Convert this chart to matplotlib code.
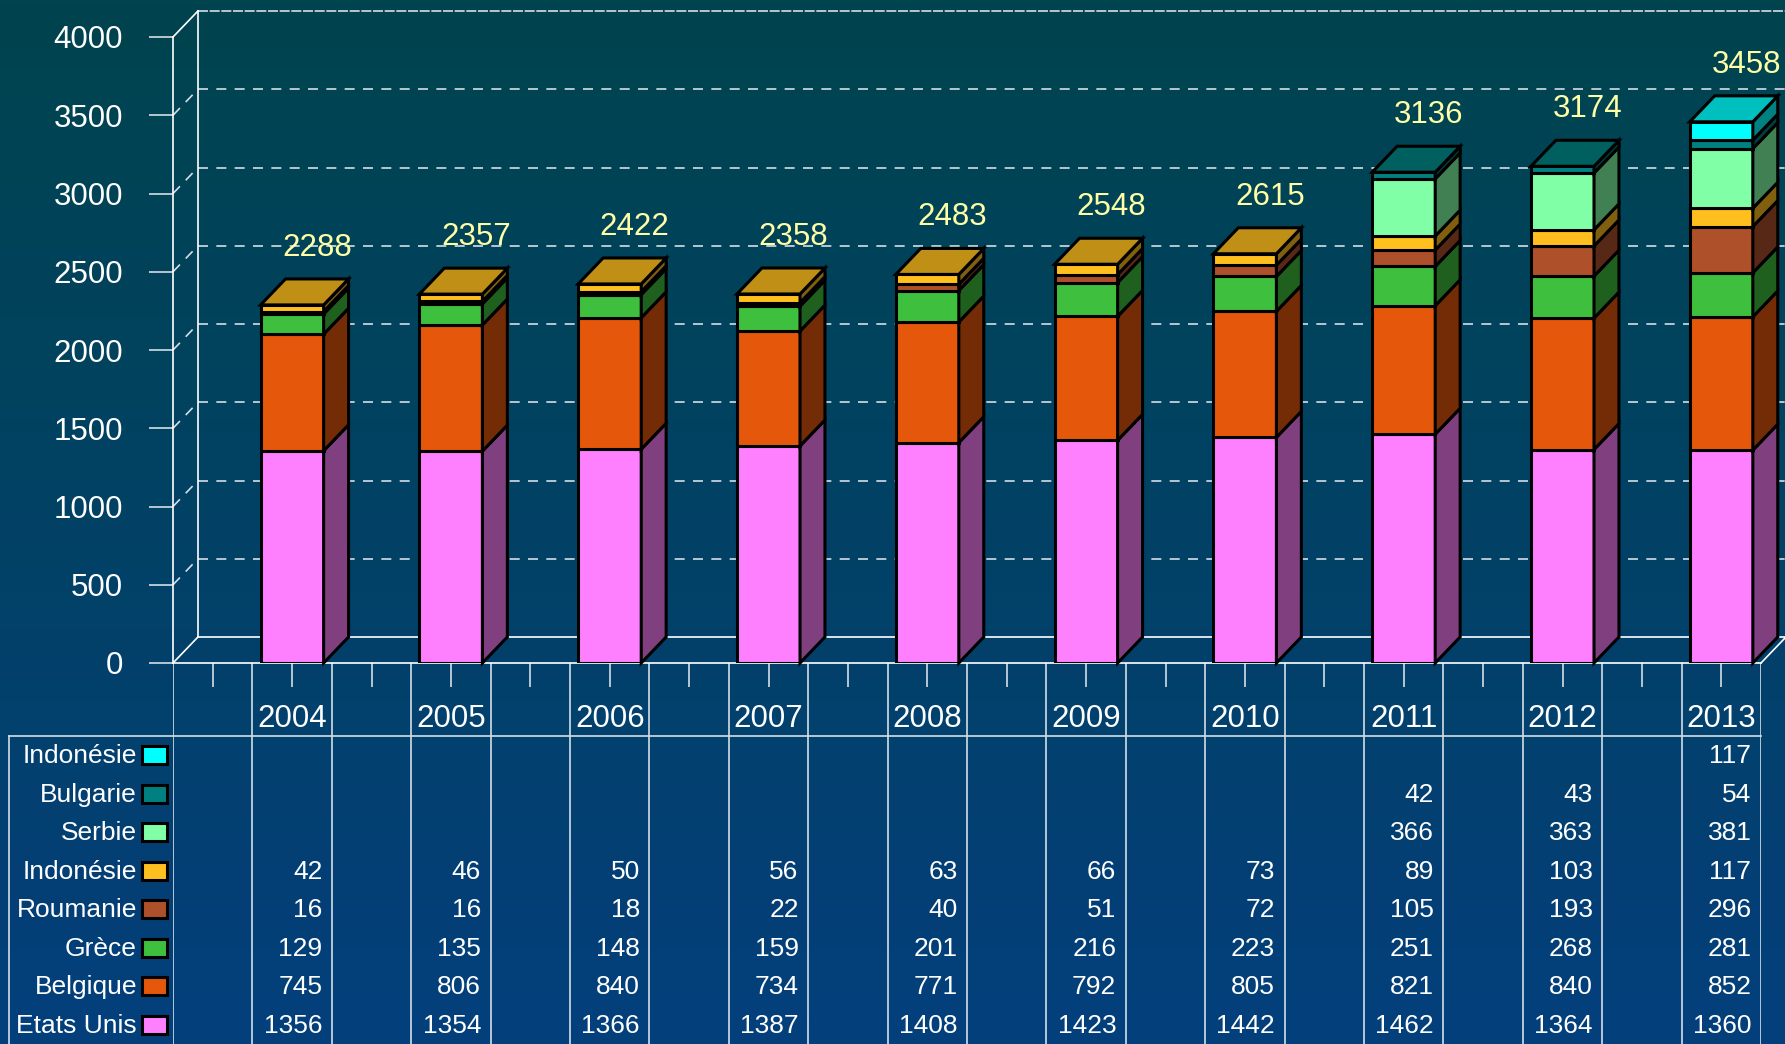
import numpy as np
import matplotlib.pyplot as plt
from matplotlib.patches import Polygon, Rectangle
from matplotlib.colors import to_rgb

plt.rcParams['font.family'] = ['Liberation Sans', 'DejaVu Sans']

nan = np.nan

# data, stacked from the bottom up
years = ["2004", "2005", "2006", "2007", "2008", "2009", "2010", "2011", "2012", "2013"]
etats_unis = [1356, 1354, 1366, 1387, 1408, 1423, 1442, 1462, 1364, 1360]
belgique = [745, 806, 840, 734, 771, 792, 805, 821, 840, 852]
grece = [129, 135, 148, 159, 201, 216, 223, 251, 268, 281]
roumanie = [16, 16, 18, 22, 40, 51, 72, 105, 193, 296]
indonesie = [42, 46, 50, 56, 63, 66, 73, 89, 103, 117]
serbie = [nan, nan, nan, nan, nan, nan, nan, 366, 363, 381]
bulgarie = [nan, nan, nan, nan, nan, nan, nan, 42, 43, 54]
indonesie_2 = [nan, nan, nan, nan, nan, nan, nan, nan, nan, 117]
y_ticks = [0, 500, 1000, 1500, 2000, 2500, 3000, 3500, 4000]

series = [etats_unis, belgique, grece, roumanie, indonesie, serbie, bulgarie, indonesie_2]
names = ["Etats Unis", "Belgique", "Grèce", "Roumanie", "Indonésie", "Serbie", "Bulgarie", "Indonésie"]
colors = ["#FF80FF", "#E5570A", "#3EBF3E", "#AE5029", "#FFBF1E", "#80FFA6", "#008080", "#00FFFF"]

# fake 3d depth, in data units
DX = 0.157
DY = 166
BAR_W = 0.397
X0, X1 = -0.75, 9.25
LINE_C = "#D5DEE6"
EDGE_W = 2.2


def shade(c, f):
    return tuple(np.array(to_rgb(c)) * f)


fig = plt.figure(figsize=(17.85, 10.44), dpi=100)

# background gradient
bg = fig.add_axes([0, 0, 1, 1], zorder=0)
top_c = np.array(to_rgb("#00444E"))
bot_c = np.array(to_rgb("#043F7C"))
t = np.linspace(0, 1, 256)[:, None, None]
grad = top_c * (1 - t) + bot_c * t
bg.imshow(np.repeat(grad, 2, axis=1), aspect="auto", extent=[0, 1, 0, 1])
bg.axis("off")

ax = fig.add_axes([173 / 1785, 381 / 1044, 1588 / 1785, 626 / 1044], zorder=2)
ax.patch.set_visible(False)
ax.set_xlim(X0, X1)
ax.set_ylim(0, 4000)
for side in ["top", "right"]:
    ax.spines[side].set_visible(False)
for side in ["left", "bottom"]:
    ax.spines[side].set_color("white")
    ax.spines[side].set_linewidth(1.2)
ax.set_yticks(y_ticks)
ax.tick_params(axis="y", length=17.3, width=1.2, color=LINE_C, pad=18.7,
               labelsize=22.5, labelcolor="white")
ax.set_xticks(np.arange(-0.5, 9.01, 0.5))
ax.set_xticklabels([])
ax.tick_params(axis="x", length=17.3, width=1.2, color=LINE_C)

# walls and floor
for v in y_ticks[1:]:
    dash = (6, 1) if v == y_ticks[-1] else (6, 5)
    ax.plot([X0 + DX, X1 + DX], [v + DY, v + DY], color=LINE_C, lw=1.2,
            dashes=dash, clip_on=False, zorder=1)
    if v != y_ticks[-1]:
        ax.plot([X0, X0 + DX], [v, v + DY], color=LINE_C, lw=1.2,
                dashes=(6, 5), clip_on=False, zorder=1)
ax.plot([X0, X0 + DX], [4000, 4000 + DY], color="white", lw=1.2, clip_on=False, zorder=1)
ax.plot([X0 + DX, X0 + DX], [DY, 4000 + DY], color="white", lw=1.2, clip_on=False, zorder=1)
ax.plot([X0 + DX, X1 + DX], [DY, DY], color="white", lw=1.2, clip_on=False, zorder=1)
ax.plot([X0, X0 + DX], [0, DY], color="white", lw=1.2, clip_on=False, zorder=1)
ax.plot([X1, X1 + DX], [0, DY], color="white", lw=1.2, clip_on=False, zorder=1)

# stacked 3d bars
for i in range(len(years)):
    bottom = 0
    xl, xr = i - BAR_W / 2, i + BAR_W / 2
    top_color = None
    for vals, col in zip(series, colors):
        v = vals[i]
        if np.isnan(v):
            continue
        ax.bar(i, v, BAR_W, bottom=bottom, color=col, edgecolor="black",
               linewidth=EDGE_W, zorder=3)
        side = Polygon([(xr, bottom), (xr + DX, bottom + DY), (xr + DX, bottom + v + DY),
                        (xr, bottom + v)], closed=True, facecolor=shade(col, 0.5),
                       edgecolor="black", linewidth=EDGE_W, zorder=3, clip_on=False)
        ax.add_patch(side)
        bottom += v
        top_color = col
    lid = Polygon([(xl, bottom), (xr, bottom), (xr + DX, bottom + DY), (xl + DX, bottom + DY)],
                  closed=True, facecolor=shade(top_color, 0.75), edgecolor="black",
                  linewidth=EDGE_W, zorder=3, clip_on=False)
    ax.add_patch(lid)
    ax.annotate(str(int(bottom)), xy=(i + DX, bottom + DY), xytext=(0, 31),
                textcoords="offset pixels", ha="center", va="center",
                fontsize=22.5, color="#FFFFA6", annotation_clip=False, zorder=4)

# data table under the chart
tab = fig.add_axes([173 / 1785, 0, 1588 / 1785, 381 / 1044], zorder=1)
tab.set_xlim(X0, X1)
tab.set_ylim(8, -73 / 38.5)
tab.axis("off")
left_edge = -1.783
for k in range(21):
    tab.plot([X0 + 0.5 * k] * 2, [-73 / 38.5, 8], color=LINE_C, lw=1.2)
tab.plot([left_edge, X1], [0, 0], color=LINE_C, lw=1.2, clip_on=False)
tab.plot([left_edge, left_edge], [0, 8], color=LINE_C, lw=1.2, clip_on=False)

for i, yr in enumerate(years):
    tab.text(i, -0.45, yr, ha="center", va="center", fontsize=22.5, color="white")

rows = list(zip(names, series, colors))[::-1]
for r, (name, vals, col) in enumerate(rows):
    tab.text(-0.977, r + 0.52, name, ha="right", va="center", fontsize=19,
             color="white", clip_on=False)
    tab.add_patch(Rectangle((-0.945, r + 0.27), 0.157, 0.46, facecolor=col,
                            edgecolor="black", linewidth=EDGE_W, clip_on=False))
    for i, v in enumerate(vals):
        if not np.isnan(v):
            tab.text(i + 0.19, r + 0.52, str(int(v)), ha="right", va="center",
                     fontsize=19, color="white")

fig.savefig("out.png", dpi=100)
